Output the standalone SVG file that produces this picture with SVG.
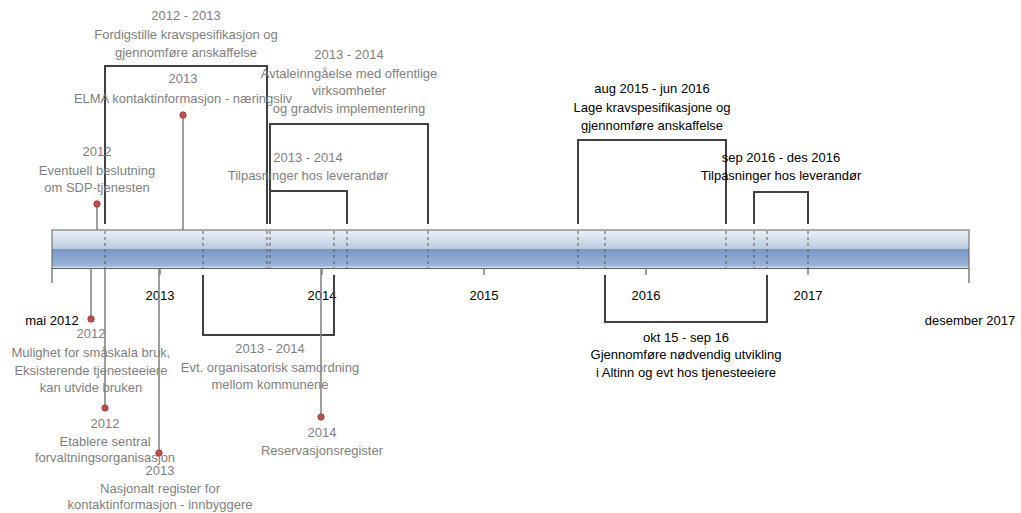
<svg xmlns="http://www.w3.org/2000/svg" width="1021" height="513" viewBox="0 0 1021 513">
<defs>
<linearGradient id="barGrad" x1="0" y1="0" x2="0" y2="1">
<stop offset="0" stop-color="#edf1f7"/>
<stop offset="0.49" stop-color="#bccbe0"/>
<stop offset="0.5" stop-color="#7898c5"/>
<stop offset="0.94" stop-color="#9db5d8"/>
<stop offset="0.97" stop-color="#d6e0ee"/>
<stop offset="1" stop-color="#d6e0ee"/>
</linearGradient>
<style>
text{font-family:"Liberation Sans",Arial,sans-serif;font-size:13px;text-anchor:middle}
.g{fill:#7f7f7f}
.k{fill:#000}
.br{fill:none;stroke:#404040;stroke-width:2}
.pin{stroke:#808080;stroke-width:1.5;fill:none}
.dot{fill:#c0504d;stroke:#943634;stroke-width:0.8}
.dash{stroke:#595959;stroke-width:1;stroke-dasharray:3,3}
.tick{stroke:#808080;stroke-width:1.5}
</style>
</defs>
<rect width="1021" height="513" fill="#fff"/>

<g id="timeline">
<rect x="52" y="230" width="917" height="38.5" fill="url(#barGrad)" stroke="#5f5f5f" stroke-width="1"/>
<line class="tick" x1="52" y1="269" x2="52" y2="283"/>
<line class="tick" x1="969" y1="269" x2="969" y2="283"/>
<line class="tick" x1="160" y1="269" x2="160" y2="275"/>
<line class="tick" x1="322" y1="269" x2="322" y2="275"/>
<line class="tick" x1="484" y1="269" x2="484" y2="275"/>
<line class="tick" x1="646" y1="269" x2="646" y2="275"/>
<line class="tick" x1="808" y1="269" x2="808" y2="275"/>
<text class="k" x="160" y="300">2013</text>
<text class="k" x="322" y="300">2014</text>
<text class="k" x="484" y="300">2015</text>
<text class="k" x="646" y="300">2016</text>
<text class="k" x="808" y="300">2017</text>
<text class="k" x="52" y="325">mai 2012</text>
<text class="k" x="970" y="325">desember 2017</text>
</g>

<g id="connectors">
<line class="dash" x1="105" y1="231" x2="105" y2="268"/>
<line class="dash" x1="203" y1="231" x2="203" y2="268"/>
<line class="dash" x1="267" y1="231" x2="267" y2="268"/>
<line class="dash" x1="270" y1="231" x2="270" y2="268"/>
<line class="dash" x1="334" y1="231" x2="334" y2="268"/>
<line class="dash" x1="347" y1="231" x2="347" y2="268"/>
<line class="dash" x1="428" y1="231" x2="428" y2="268"/>
<line class="dash" x1="578" y1="231" x2="578" y2="268"/>
<line class="dash" x1="605" y1="231" x2="605" y2="268"/>
<line class="dash" x1="726" y1="231" x2="726" y2="268"/>
<line class="dash" x1="754" y1="231" x2="754" y2="268"/>
<line class="dash" x1="767" y1="231" x2="767" y2="268"/>
<line class="dash" x1="808" y1="231" x2="808" y2="268"/>
</g>

<g id="n-fordigstille">
<polyline class="br" points="105,224 105,66 267,66 267,224"/>
<text class="g" x="186" y="20">2012 - 2013</text>
<text class="g" x="186" y="39">Fordigstille kravspesifikasjon og</text>
<text class="g" x="186" y="57">gjennomføre anskaffelse</text>
</g>

<g id="n-avtale">
<polyline class="br" points="270,224 270,124 428,124 428,224"/>
<text class="g" x="349" y="59">2013 - 2014</text>
<text class="g" x="349" y="78">Avtaleinngåelse med offentlige</text>
<text class="g" x="349" y="95">virksomheter</text>
<text class="g" x="349" y="113">og gradvis implementering</text>
</g>

<g id="n-tilpas1">
<polyline class="br" points="270,224 270,191 347,191 347,224"/>
<text class="g" x="308" y="162">2013 - 2014</text>
<text class="g" x="308" y="180">Tilpasninger hos leverandør</text>
</g>

<g id="n-lage">
<polyline class="br" points="578,224 578,140 726,140 726,224"/>
<text class="k" x="652" y="93">aug 2015 - jun 2016</text>
<text class="k" x="652" y="112">Lage kravspesifikasjone og</text>
<text class="k" x="652" y="130">gjennomføre anskaffelse</text>
</g>

<g id="n-tilpas2">
<polyline class="br" points="754,224 754,192 808,192 808,224"/>
<text class="k" x="781" y="162">sep 2016 - des 2016</text>
<text class="k" x="781" y="180">Tilpasninger hos leverandør</text>
</g>

<g id="n-samordning">
<polyline class="br" points="203,275 203,335 334,335 334,275"/>
<text class="g" x="270" y="353">2013 - 2014</text>
<text class="g" x="270" y="372">Evt. organisatorisk samordning</text>
<text class="g" x="270" y="389">mellom kommunene</text>
</g>

<g id="n-utvikling">
<polyline class="br" points="605,275 605,322 767,322 767,275"/>
<text class="k" x="686" y="342">okt 15 - sep 16</text>
<text class="k" x="686" y="359">Gjennomføre nødvendig utvikling</text>
<text class="k" x="686" y="377">i Altinn og evt hos tjenesteeiere</text>
</g>

<g id="m-sdp">
<line class="pin" x1="97" y1="204" x2="97" y2="230"/>
<circle class="dot" cx="97" cy="204" r="3.2"/>
<text class="g" x="97" y="156">2012</text>
<text class="g" x="97" y="175">Eventuell beslutning</text>
<text class="g" x="97" y="192">om SDP-tjenesten</text>
</g>

<g id="m-elma">
<line class="pin" x1="183" y1="115" x2="183" y2="230"/>
<circle class="dot" cx="183" cy="115" r="3.2"/>
<text class="g" x="183" y="83">2013</text>
<text class="g" x="183" y="103">ELMA kontaktinformasjon - næringsliv</text>
</g>

<g id="m-smaskala">
<line class="pin" x1="91" y1="269" x2="91" y2="319"/>
<circle class="dot" cx="91" cy="319" r="3.2"/>
<text class="g" x="91" y="338">2012</text>
<text class="g" x="91" y="357">Mulighet for småskala bruk,</text>
<text class="g" x="91" y="375">Eksisterende tjenesteeiere</text>
<text class="g" x="91" y="392">kan utvide bruken</text>
</g>

<g id="m-etablere">
<line class="pin" x1="105" y1="269" x2="105" y2="408"/>
<circle class="dot" cx="105" cy="408" r="3.2"/>
<text class="g" x="105" y="428">2012</text>
<text class="g" x="105" y="446">Etablere sentral</text>
<text class="g" x="105" y="462">forvaltningsorganisasjon</text>
</g>

<g id="m-nasjonalt">
<line class="pin" x1="159" y1="269" x2="159" y2="453"/>
<circle class="dot" cx="159" cy="453" r="3.2"/>
<text class="g" x="160" y="475">2013</text>
<text class="g" x="160" y="493">Nasjonalt register for</text>
<text class="g" x="160" y="509">kontaktinformasjon - innbyggere</text>
</g>

<g id="m-reservasjon">
<line class="pin" x1="321" y1="269" x2="321" y2="417"/>
<circle class="dot" cx="321" cy="417" r="3.2"/>
<text class="g" x="322" y="437">2014</text>
<text class="g" x="322" y="455">Reservasjonsregister</text>
</g>
</svg>
